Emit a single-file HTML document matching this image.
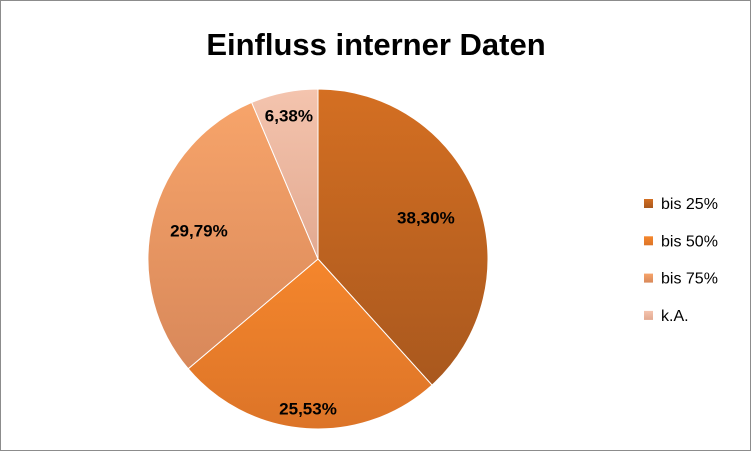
<!DOCTYPE html>
<html><head><meta charset="utf-8"><style>
body{margin:0;background:#fff}
svg{display:block}
</style></head><body>
<svg width="752" height="452" xmlns="http://www.w3.org/2000/svg">
<defs>
<linearGradient id="g0" x1="0" y1="0" x2="0" y2="1"><stop offset="0" stop-color="#D46F22"/><stop offset="1" stop-color="#A9581E"/></linearGradient>
<linearGradient id="g1" x1="0" y1="0" x2="0" y2="1"><stop offset="0" stop-color="#F5862C"/><stop offset="1" stop-color="#DC7428"/></linearGradient>
<linearGradient id="g2" x1="0" y1="0" x2="0" y2="1"><stop offset="0" stop-color="#F7A46A"/><stop offset="1" stop-color="#D8885A"/></linearGradient>
<linearGradient id="g3" x1="0" y1="0" x2="0" y2="1"><stop offset="0" stop-color="#F4C4AE"/><stop offset="1" stop-color="#E2A990"/></linearGradient>
</defs>
<rect x="0.5" y="0.5" width="750" height="450" fill="#fff" stroke="#8c8c8c"/>
<text x="376" y="55" text-anchor="middle" font-family="Liberation Sans, sans-serif" font-size="31" font-weight="bold" fill="#000">Einfluss interner Daten</text>
<g id="slices"></g>
<g id="legend"></g>
</svg>
<script>
const categories=["bis 25%","bis 50%","bis 75%","k.A."];
const values=[38.30,25.53,29.79,6.38];
const labels=["38,30%","25,53%","29,79%","6,38%"];
const fills=["url(#g0)","url(#g1)","url(#g2)","url(#g3)"];
const labelR=[0.68,0.88,0.72,0.86];
const NS="http://www.w3.org/2000/svg";
const cx=318,cy=259,r=170;
const total=values.reduce((a,b)=>a+b,0);
const sg=document.getElementById('slices'),lg=document.getElementById('legend');
let a0=0;
function pt(a,rr){return [cx+rr*Math.sin(a),cy-rr*Math.cos(a)];}
values.forEach((v,i)=>{
 const a1=a0+v/total*2*Math.PI;
 const p0=pt(a0,r),p1=pt(a1,r);
 const large=(a1-a0)>Math.PI?1:0;
 const p=document.createElementNS(NS,'path');
 p.setAttribute('d',`M${cx},${cy}L${p0[0]},${p0[1]}A${r},${r} 0 ${large} 1 ${p1[0]},${p1[1]}Z`);
 p.setAttribute('fill',fills[i]);
 p.setAttribute('stroke','#fff');p.setAttribute('stroke-width','1');
 
 
 sg.appendChild(p);
 const am=(a0+a1)/2;
 const lp=pt(am,labelR[i]*r);
 const t=document.createElementNS(NS,'text');
 t.setAttribute('x',lp[0]);t.setAttribute('y',lp[1]+6);
 t.setAttribute('text-anchor','middle');
 t.setAttribute('font-family','Liberation Sans, sans-serif');
 t.setAttribute('font-size','17');t.setAttribute('font-weight','bold');
 t.textContent=labels[i];
 
 
 sg.appendChild(t);
 const y=203+i*37.3;
 const s=document.createElementNS(NS,'rect');
 s.setAttribute('x',644);s.setAttribute('y',y-4);s.setAttribute('width',9);s.setAttribute('height',9);
 s.setAttribute('fill',fills[i]);
 
 
 lg.appendChild(s);
 const lt=document.createElementNS(NS,'text');
 lt.setAttribute('x',661);lt.setAttribute('y',y+6);
 lt.setAttribute('font-family','Liberation Sans, sans-serif');
 lt.setAttribute('font-size','16');
 lt.textContent=categories[i];
 
 
 lg.appendChild(lt);
 a0=a1;
});
</script>
</body></html>
